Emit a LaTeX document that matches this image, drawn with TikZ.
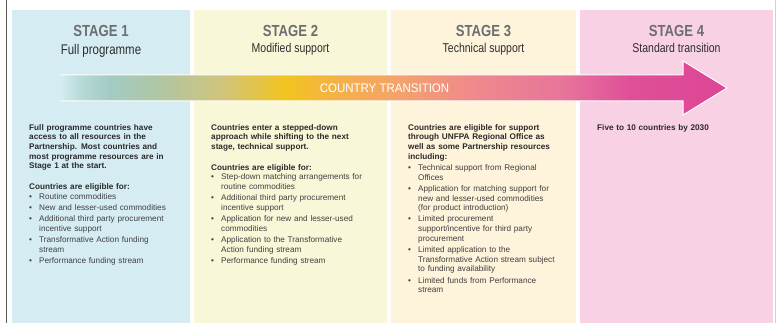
\documentclass[tikz,border=0pt]{standalone}
\usepackage{fontspec}
\setmainfont{Liberation Sans}
\newfontfamily\narrowfont[FakeStretch=0.82]{Liberation Sans}
\newfontfamily\transfont[FakeStretch=0.92]{Liberation Sans}
\setlength\parindent{0pt}
\definecolor{bga}{HTML}{D5ECF3}
\definecolor{bgb}{HTML}{F8F7D8}
\definecolor{bgc}{HTML}{FEF3DB}
\definecolor{bgd}{HTML}{F8D1E4}
\definecolor{titlegray}{HTML}{6D6E71}
\definecolor{subdark}{HTML}{2E2E2E}
\definecolor{boldtxt}{HTML}{2A2A2A}
\definecolor{regtxt}{HTML}{404040}
\definecolor{ga}{HTML}{B8DAD8}
\definecolor{gb}{HTML}{A3CBC4}
\definecolor{gc}{HTML}{B0C6A2}
\definecolor{gd}{HTML}{D0C47E}
\definecolor{ge}{HTML}{F2C41F}
\definecolor{gf}{HTML}{F4B04A}
\definecolor{gg}{HTML}{F3A26C}
\definecolor{gh}{HTML}{EF8A8A}
\definecolor{gi}{HTML}{E7769A}
\definecolor{gj}{HTML}{DF4F99}
\definecolor{gk}{HTML}{DD4695}
\pgfdeclarehorizontalshading{transshade}{100bp}{color(0bp)=(bga); color(25bp)=(bga); color(26.5bp)=(ga); color(28.7bp)=(gb); color(32.5bp)=(gc); color(37bp)=(gd); color(41.9bp)=(ge); color(46bp)=(gf); color(50.5bp)=(gg); color(55.7bp)=(gh); color(62.5bp)=(gi); color(67.7bp)=(gj); color(75bp)=(gk); color(100bp)=(gk)}
\newcommand\hd[1]{{\bfseries\color{boldtxt}#1}}
\newcommand\bitem{\makebox[10pt][l]{\textbullet}}
\newcommand\bcont{\hspace*{10pt}}
\tikzset{
  panel/.style={anchor=north west, inner sep=0pt, outer sep=0pt, minimum width=#1, minimum height=313pt},
  body/.style={anchor=north west, inner sep=0pt, text width=175pt, align=left, font=\fontsize{8.2}{9.7}\selectfont, text=regtxt},
  stagetitle/.style={anchor=base, inner sep=0pt, font=\narrowfont\bfseries\fontsize{16}{16}\selectfont, text=titlegray},
  stagesub/.style={anchor=base, inner sep=0pt, font=\narrowfont\fontsize{12.8}{13}\selectfont, text=subdark},
  translabel/.style={anchor=base, inner sep=0pt, font=\transfont\fontsize{12.5}{13}\selectfont, text=white},
  arrowedge/.style={draw=white, line width=1pt, line join=miter},
}
\begin{document}
\begin{tikzpicture}[x=1pt, y=-1pt]
\useasboundingbox (0,0) rectangle (778,323);
% panels
\node[panel=178pt, fill=bga] (p1) at (12,10) {};
\node[panel=193pt, fill=bgb] (p2) at (194,10) {};
\node[panel=185pt, fill=bgc] (p3) at (391,10) {};
\node[panel=193pt, fill=bgd] (p4) at (580,10) {};
% frame lines
\draw[color=black!65, line width=1pt] (6.5,0) -- (6.5,323);
\draw[color=black!18, line width=1pt] (775.5,0) -- (775.5,323);
% titles
\node[stagetitle] (s1) at (101,36.7) {STAGE 1};
\node[stagetitle] (s2) at (290.5,36.7) {STAGE 2};
\node[stagetitle] (s3) at (483.5,36.7) {STAGE 3};
\node[stagetitle] (s4) at (676.5,36.7) {STAGE 4};
\node[stagesub, font=\narrowfont\fontsize{14}{14}\selectfont] (u1) at (101,55) {Full programme};
\node[stagesub] (u2) at (290.5,52.5) {Modified support};
\node[stagesub] (u3) at (483.5,52.5) {Technical support};
\node[stagesub] (u4) at (676.5,52.5) {Standard transition};
% transition arrow
\shade[shading=transshade] (60,75) -- (683,75) -- (683,61) -- (727,88) -- (683,115) -- (683,101) -- (60,101) -- cycle;
\draw[arrowedge] (60,75) -- (683,75) -- (683,61) -- (727,88) -- (683,115) -- (683,101) -- (60,101);
\node[translabel] (tr) at (384.5,92.7) {COUNTRY TRANSITION};
% body texts
\node[body] (t1) at (29,124) {%
\hd{Full programme countries have}\\
\hd{access to all resources in the}\\
\hd{Partnership. Most countries and}\\
\hd{most programme resources are in}\\
\hd{Stage 1 at the start.}\\[11pt]
\hd{Countries are eligible for:}\\
\bitem Routine commodities\\[1.5pt]
\bitem New and lesser-used commodities\\[1.5pt]
\bitem Additional third party procurement\\
\bcont incentive support\\[1.5pt]
\bitem Transformative Action funding\\
\bcont stream\\[1.5pt]
\bitem Performance funding stream};
\node[body] (t2) at (211,124) {%
\hd{Countries enter a stepped-down}\\
\hd{approach while shifting to the next}\\
\hd{stage, technical support.}\\[11pt]
\hd{Countries are eligible for:}\\
\bitem Step-down matching arrangements for\\
\bcont routine commodities\\[1.5pt]
\bitem Additional third party procurement\\
\bcont incentive support\\[1.5pt]
\bitem Application for new and lesser-used\\
\bcont commodities\\[1.5pt]
\bitem Application to the Transformative\\
\bcont Action funding stream\\[1.5pt]
\bitem Performance funding stream};
\node[body] (t3) at (408,124) {%
\hd{Countries are eligible for support}\\
\hd{through UNFPA Regional Office as}\\
\hd{well as some Partnership resources}\\
\hd{including:}\\[1.5pt]
\bitem Technical support from Regional\\
\bcont Offices\\[1.5pt]
\bitem Application for matching support for\\
\bcont new and lesser-used commodities\\
\bcont (for product introduction)\\[1.5pt]
\bitem Limited procurement\\
\bcont support/incentive for third party\\
\bcont procurement\\[1.5pt]
\bitem Limited application to the\\
\bcont Transformative Action stream subject\\
\bcont to funding availability\\[1.5pt]
\bitem Limited funds from Performance\\
\bcont stream};
\node[body] (t4) at (597,124) {\hd{Five to 10 countries by 2030}};
\end{tikzpicture}
\end{document}
